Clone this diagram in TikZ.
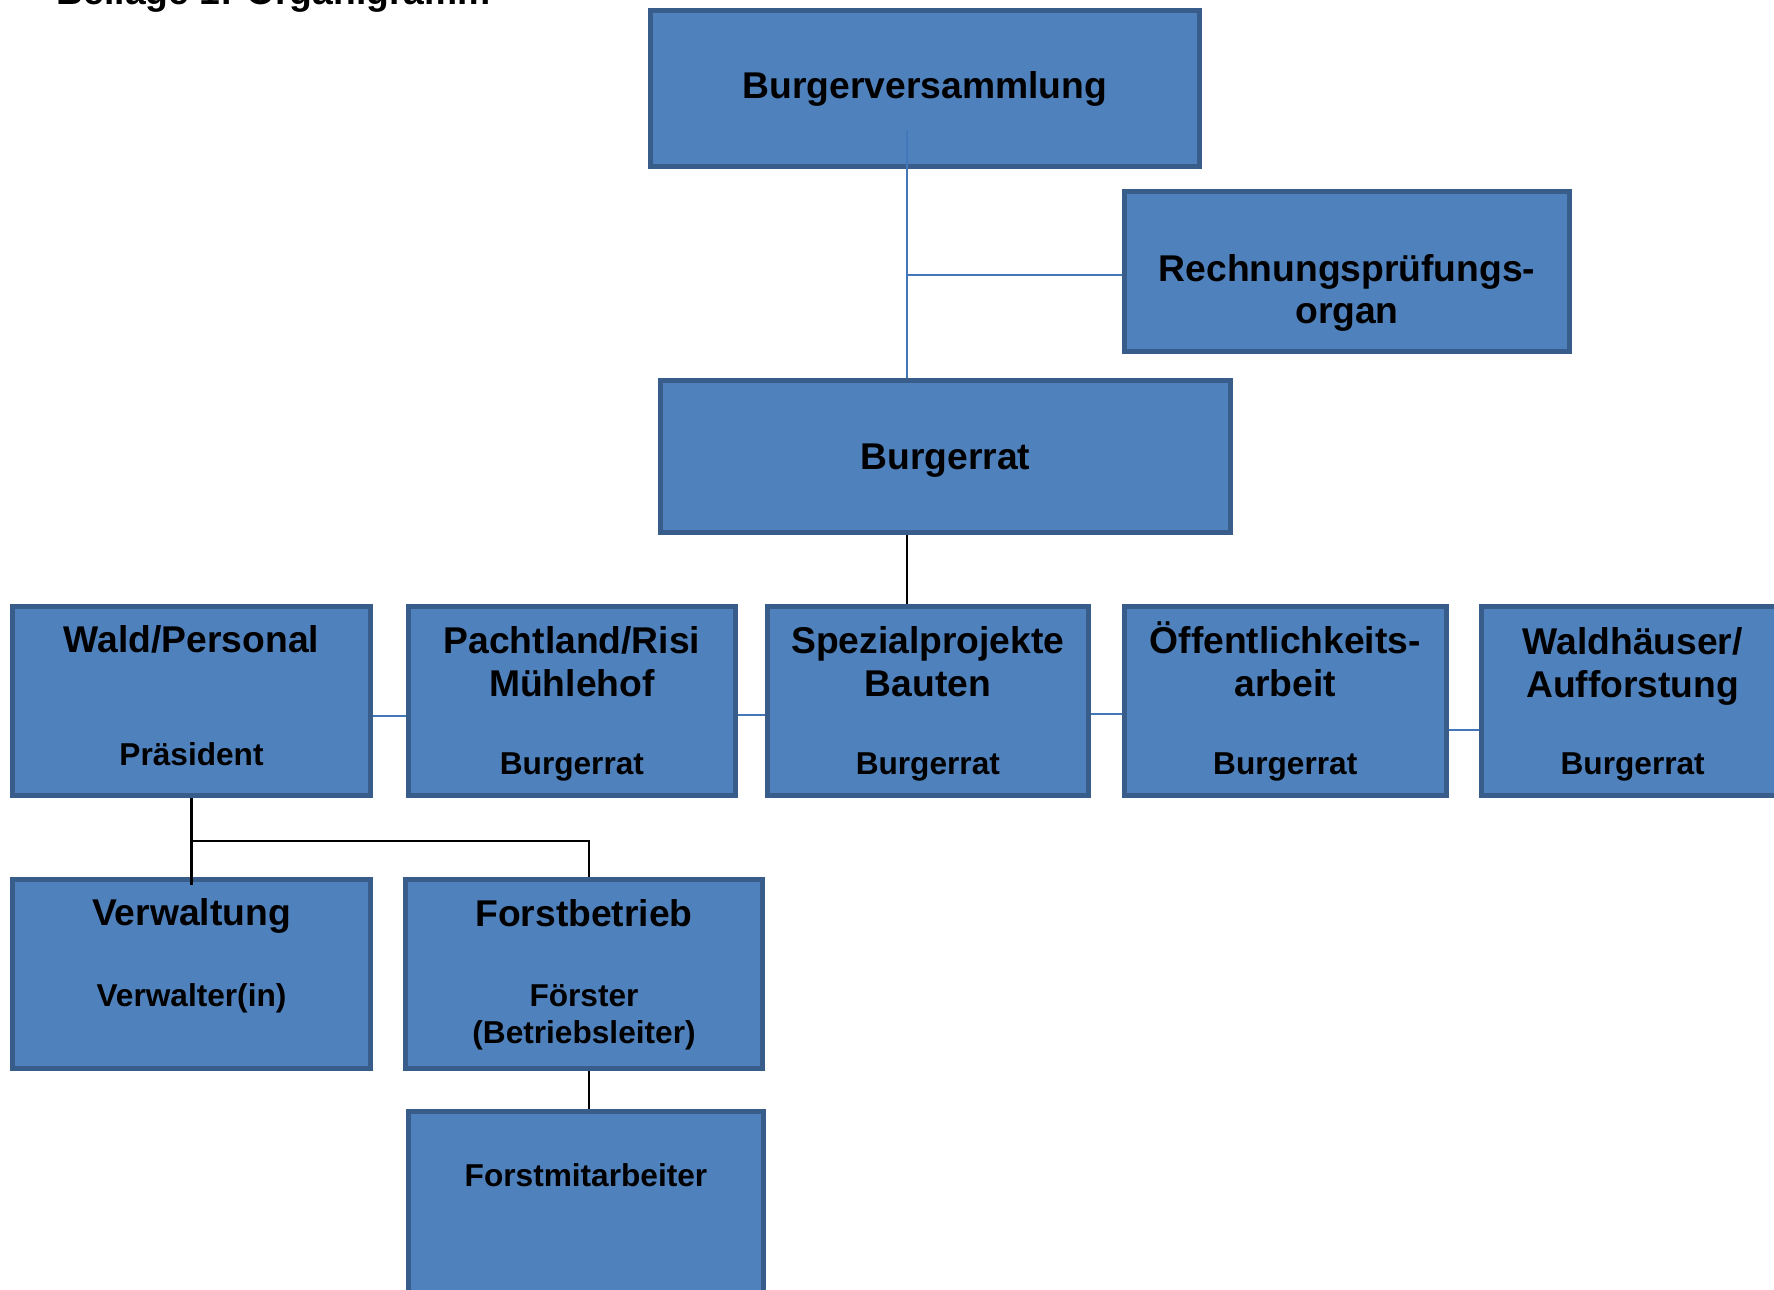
\documentclass[tikz,border=0pt]{standalone}
\usepackage{fontspec}
\setmainfont{Liberation Sans}
\usepackage{xcolor}
\usetikzlibrary{positioning}
\definecolor{boxfill}{RGB}{79,129,189}
\definecolor{boxline}{RGB}{56,93,138}
\definecolor{linkblue}{RGB}{68,118,186}

\begin{document}
\begin{tikzpicture}[
    box/.style={draw=boxline, fill=boxfill, line width=1.4pt, inner sep=0pt, minimum height=1.89cm},
    head/.style={font=\fontsize{10.6}{12.2}\selectfont\bfseries, align=center, inner sep=0pt},
    sub/.style={font=\fontsize{9}{10.6}\selectfont\bfseries, align=center, inner sep=0pt},
    link/.style={draw=linkblue, line width=0.6pt},
    tie/.style={draw=black, line width=0.8pt}
]
\useasboundingbox (0,0) rectangle (17.74,-12.90);
\node[head, anchor=base west] (titel) at (0.56,-0.04) {Beilage 1: Organigramm};

% oberste Ebene
\node[box, head, minimum width=5.49cm, minimum height=1.56cm] (bv) at (9.25,-0.885) {Burgerversammlung};
\node[box, minimum width=4.45cm, minimum height=1.60cm] (rp) at (13.47,-2.715) {};
\node[head] (rpT) at (13.47,-2.93) {Rechnungsprüfungs-\\organ};
\node[box, minimum width=5.70cm, minimum height=1.52cm] (br) at (9.455,-4.565) {};
\node[head] (brT) at (9.455,-4.61) {Burgerrat};

% Ressorts
\node[box, minimum width=3.58cm] (wald) at (1.915,-7.01) {};
\node[box, minimum width=3.27cm, right=0.33cm of wald] (pacht) {};
\node[box, minimum width=3.21cm, right=0.27cm of pacht] (spez) {};
\node[box, minimum width=3.22cm, right=0.31cm of spez] (oeff) {};
\node[box, minimum width=3.03cm, right=0.30cm of oeff] (waldh) {};

\node[head] (waldT) at ([yshift=-0.35cm]wald.north) {Wald/Personal};
\node[head] (pachtT) at ([yshift=-0.575cm]pacht.north) {Pachtland/Risi\\Mühlehof};
\node[head] (spezT) at ([yshift=-0.575cm]spez.north) {Spezialprojekte\\Bauten};
\node[head] (oeffT) at ([yshift=-0.55cm]oeff.north) {Öffentlichkeits-\\arbeit};
\node[head] (waldhT) at ([yshift=-0.62cm]waldh.north) {Waldhäuser/\\Aufforstung};
\node[sub] (waldS) at ([yshift=0.435cm]wald.south) {Präsident};
\node[sub] (pachtS) at ([yshift=0.305cm]pacht.south) {Burgerrat};
\node[sub] (spezS) at ([yshift=0.305cm]spez.south) {Burgerrat};
\node[sub] (oeffS) at ([yshift=0.305cm]oeff.south) {Burgerrat};
\node[sub] (waldhS) at ([yshift=0.305cm]waldh.south) {Burgerrat};

% unter Wald/Personal
\node[box, minimum width=3.58cm] (verw) at (1.915,-9.74) {};
\node[box, minimum width=3.57cm] (fb) at (5.84,-9.74) {};
\node[box, minimum width=3.55cm, minimum height=1.96cm] (fm) at (5.86,-12.095) {};
\node[head] (verwT) at ([yshift=-0.39cm]verw.north) {Verwaltung};
\node[sub] (verwS) at ([yshift=0.725cm]verw.south) {Verwalter(in)};
\node[head] (fbT) at ([yshift=-0.36cm]fb.north) {Forstbetrieb};
\node[sub] (fbS) at ([yshift=0.54cm]fb.south) {Förster\\(Betriebsleiter)};
\node[sub] (fmT) at ([yshift=-0.665cm]fm.north) {Forstmitarbeiter};

% Verbindungen
\coordinate (j0) at (9.07,-1.30);
\coordinate (j1) at (9.07,-2.75);
\coordinate (j2) at (1.915,-8.41);
\coordinate (j3) at (5.89,-8.41);
\draw[link] (j0) -- (br.north -| j0);
\draw[link] (j1) -- (j1 -| rp.west);
\draw[tie] (br.south -| j1) -- (spez.north -| j1);
\draw[link] ([yshift=-0.15cm]wald.east) -- ([yshift=-0.15cm]pacht.west);
\draw[link] ([yshift=-0.14cm]pacht.east) -- ([yshift=-0.14cm]spez.west);
\draw[link] ([yshift=-0.13cm]spez.east) -- ([yshift=-0.13cm]oeff.west);
\draw[link] ([yshift=-0.29cm]oeff.east) -- ([yshift=-0.29cm]waldh.west);
\draw[tie] (wald.south) -- ([yshift=-0.08cm]verw.north);
\draw[tie] (j2) -- (j3) -- (j3 |- fb.north);
\draw[tie] (fb.south -| j3) -- (fm.north -| j3);
\end{tikzpicture}
\end{document}
